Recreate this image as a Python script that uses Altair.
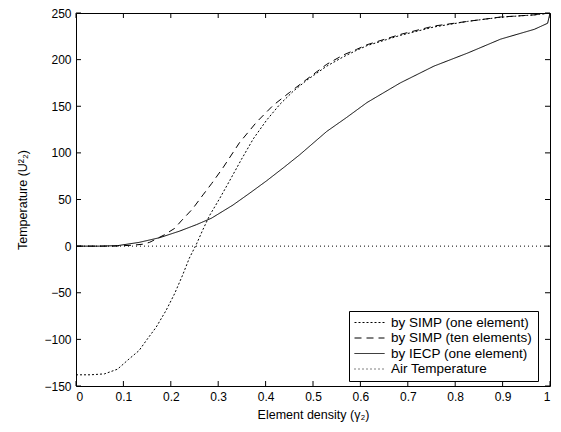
import altair as alt
import pandas as pd

# ---- data ----
simp1_x = [0, 0.03, 0.06, 0.0875, 0.112, 0.133, 0.15, 0.169, 0.19, 0.208, 0.225, 0.239, 0.254,
           0.268, 0.282, 0.303, 0.324, 0.349, 0.374, 0.402, 0.43, 0.458, 0.487, 0.529, 0.564,
           0.592, 0.614, 0.684, 0.755, 0.826, 0.896, 0.967, 1.0]
simp1_y = [-138, -138, -137, -132, -121, -112, -100, -87, -69, -51, -31, -13, 2,
           18, 33, 51, 70, 93, 115, 135, 152, 166, 178, 193, 203,
           210, 215, 226, 235, 241, 245.5, 248, 250]

simp10_x = [0, 0.08, 0.1, 0.12, 0.14, 0.155, 0.186, 0.208, 0.222, 0.246, 0.268, 0.286, 0.31,
            0.345, 0.381, 0.416, 0.451, 0.487, 0.529, 0.564, 0.592, 0.614, 0.684, 0.755,
            0.826, 0.896, 0.967, 1.0]
simp10_y = [0, 0, 0.5, 1, 2, 4, 12, 19, 27, 40, 55, 67, 84,
            111, 133, 151, 165, 179, 195, 205, 211, 216, 227, 236,
            241, 245.7, 248, 250]

iecp_x = [0, 0.05, 0.0875, 0.133, 0.176, 0.218, 0.254, 0.286, 0.331, 0.367, 0.402, 0.44,
          0.472, 0.529, 0.571, 0.614, 0.684, 0.755, 0.826, 0.896, 0.967, 0.995, 1.0]
iecp_y = [0, 0, 0.5, 4, 9, 16, 23, 30, 44, 57, 70, 85,
          98, 123, 138, 154, 175, 193, 207, 222, 232.5, 239, 250]

air_x = [0, 1]
air_y = [0, 0]

series_names = ["by SIMP (one element)", "by SIMP (ten elements)",
                "by IECP (one element)", "Air Temperature"]

x_ticks = [0, 0.1, 0.2, 0.3, 0.4, 0.5, 0.6, 0.7, 0.8, 0.9, 1.0]
y_ticks = [-150, -100, -50, 0, 50, 100, 150, 200, 250]

# ---- build table ----
rows = []
for name, xs, ys in zip(series_names,
                        [simp1_x, simp10_x, iecp_x, air_x],
                        [simp1_y, simp10_y, iecp_y, air_y]):
    for xv, yv in zip(xs, ys):
        rows.append({"series": name, "x": xv, "y": yv})
df = pd.DataFrame(rows)

W, H = 474, 373
FONT = "Liberation Sans"

xscale = alt.Scale(domain=[0, 1], nice=False, zero=False)
yscale = alt.Scale(domain=[-150, 250], nice=False, zero=False)

lines = alt.Chart(df).mark_line(color="black", strokeWidth=1, clip=True).encode(
    x=alt.X("x:Q", scale=xscale,
            axis=alt.Axis(values=x_ticks, format="~g", title="Element density (γ₂)",
                          ticks=False, domain=False, grid=False, labelPadding=5,
                          titlePadding=6)),
    y=alt.Y("y:Q", scale=yscale,
            axis=alt.Axis(values=y_ticks, title="Temperature (U²₂)",
                          ticks=False, domain=False, grid=False, labelPadding=5,
                          titlePadding=14)),
    strokeDash=alt.StrokeDash(
        "series:N",
        scale=alt.Scale(domain=series_names,
                        range=[[2, 2], [7, 5], [1, 0], [1, 3]]),
        legend=alt.Legend(title=None, orient="none", legendX=273, legendY=298,
                          strokeColor="black", fillColor="white", padding=5,
                          symbolType="stroke", symbolSize=900, symbolStrokeWidth=1,
                          symbolStrokeColor="black", labelFontSize=13.5, labelFont=FONT,
                          labelColor="black", clipHeight=13, rowPadding=1.5,
                          labelOffset=6, cornerRadius=0),
    ),
    detail="series:N",
)

xt = pd.DataFrame({"x": x_ticks})
yt = pd.DataFrame({"y": y_ticks})
TL = 5

xb = alt.Chart(xt).mark_rule(color="black", strokeWidth=1).encode(
    x=alt.X("x:Q", scale=xscale), y=alt.value(H), y2=alt.value(H - TL))
xtop = alt.Chart(xt).mark_rule(color="black", strokeWidth=1).encode(
    x=alt.X("x:Q", scale=xscale), y=alt.value(0), y2=alt.value(TL))
yl = alt.Chart(yt).mark_rule(color="black", strokeWidth=1).encode(
    y=alt.Y("y:Q", scale=yscale), x=alt.value(0), x2=alt.value(TL))
yr = alt.Chart(yt).mark_rule(color="black", strokeWidth=1).encode(
    y=alt.Y("y:Q", scale=yscale), x=alt.value(W), x2=alt.value(W - TL))

chart = alt.layer(lines, xb, xtop, yl, yr).properties(
    width=W, height=H,
    autosize=alt.AutoSizeParams(type="none"),
    padding={"left": 68, "top": 5, "right": 2, "bottom": 36},
    background="white",
).configure_view(stroke="black", strokeWidth=1).configure_axis(
    labelFont=FONT, labelFontSize=12, labelColor="black",
    titleFont=FONT, titleFontSize=12.5, titleFontWeight="normal", titleColor="black",
)

chart.save("out.html", embed_options={"renderer": "svg", "actions": False})
